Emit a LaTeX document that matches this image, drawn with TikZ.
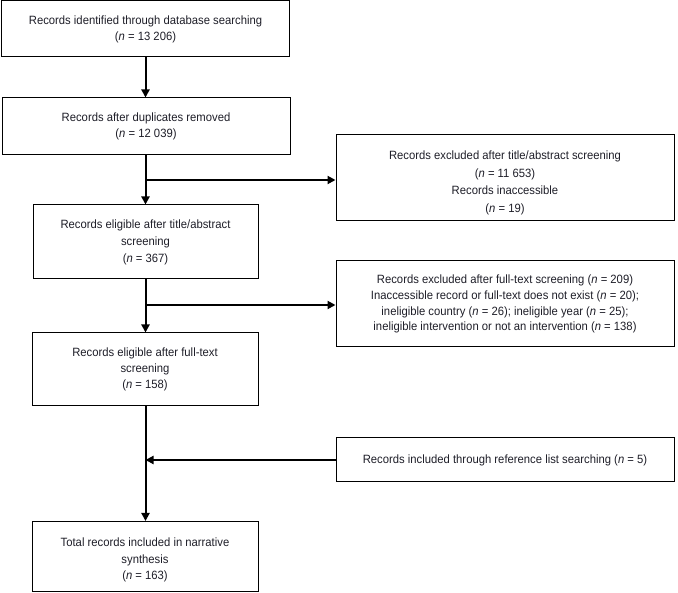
\documentclass[tikz,border=0pt]{standalone}
\usepackage{fontspec}
\setmainfont{Liberation Sans}[FakeStretch=0.94]
\usetikzlibrary{arrows.meta}
\definecolor{txt}{HTML}{1E1E28}
\tikzset{
  box/.style={draw=black, line width=1pt, align=center, text=txt, inner sep=2pt,
    font=\fontsize{12}{15.8}\selectfont},
  flow/.style={line width=2pt, -{Triangle[length=8pt,width=8pt]}}
}
\newcommand{\nn}{\textit{n}}
\begin{document}
\begin{tikzpicture}[x=1pt,y=-1pt]
\useasboundingbox (0,0) rectangle (678,593);
\node[box, minimum width=288pt, minimum height=56pt] (b1) at (145.5,29)
  {Records identified through database searching\\(\nn{} = 13 206)};
\node[box, minimum width=288pt, minimum height=57pt] (b2) at (146,126.5)
  {Records after duplicates removed\\(\nn{} = 12 039)};
\node[box, minimum width=225pt, minimum height=74pt, font=\fontsize{12}{17}\selectfont] (b3) at (145.5,242)
  {Records eligible after title/abstract\\screening\\(\nn{} = 367)};
\node[box, minimum width=226pt, minimum height=73pt] (b4) at (145,369.5)
  {Records eligible after full-text\\screening\\(\nn{} = 158)};
\node[box, minimum width=226pt, minimum height=70pt, font=\fontsize{12}{16.4}\selectfont] (b5) at (145,556.5)
  {\rule{0pt}{15.8pt}Total records included in narrative\\synthesis\\(\nn{} = 163)};
\node[box, minimum width=338pt, minimum height=86pt, font=\fontsize{12}{17.6}\selectfont] (r1) at (505,178)
  {\rule{0pt}{18.8pt}Records excluded after title/abstract screening\\(\nn{} = 11 653)\\Records inaccessible\\(\nn{} = 19)};
\node[box, minimum width=338pt, minimum height=86pt] (r2) at (505,304)
  {Records excluded after full-text screening (\nn{} = 209)\\Inaccessible record or full-text does not exist (\nn{} = 20);\\ineligible country (\nn{} = 26); ineligible year (\nn{} = 25);\\ineligible intervention or not an intervention (\nn{} = 138)};
\node[box, minimum width=338pt, minimum height=44pt] (r3) at (505,460)
  {Records included through reference list searching (\nn{} = 5)};
\coordinate (j1) at (145.5,180);
\coordinate (j2) at (145.5,305);
\coordinate (j3) at (145.5,460);
\draw[flow] (b1.south -| 145.5,0) -- (b2.north -| 145.5,0);
\draw[flow] (b2.south -| j1) -- (b3.north -| j1);
\draw[flow] (j1) -- (r1.west |- j1);
\draw[flow] (b3.south -| j2) -- (b4.north -| j2);
\draw[flow] (j2) -- (r2.west |- j2);
\draw[flow] (b4.south -| j3) -- (b5.north -| j3);
\draw[flow] (r3.west) -- (j3);
\end{tikzpicture}
\end{document}
